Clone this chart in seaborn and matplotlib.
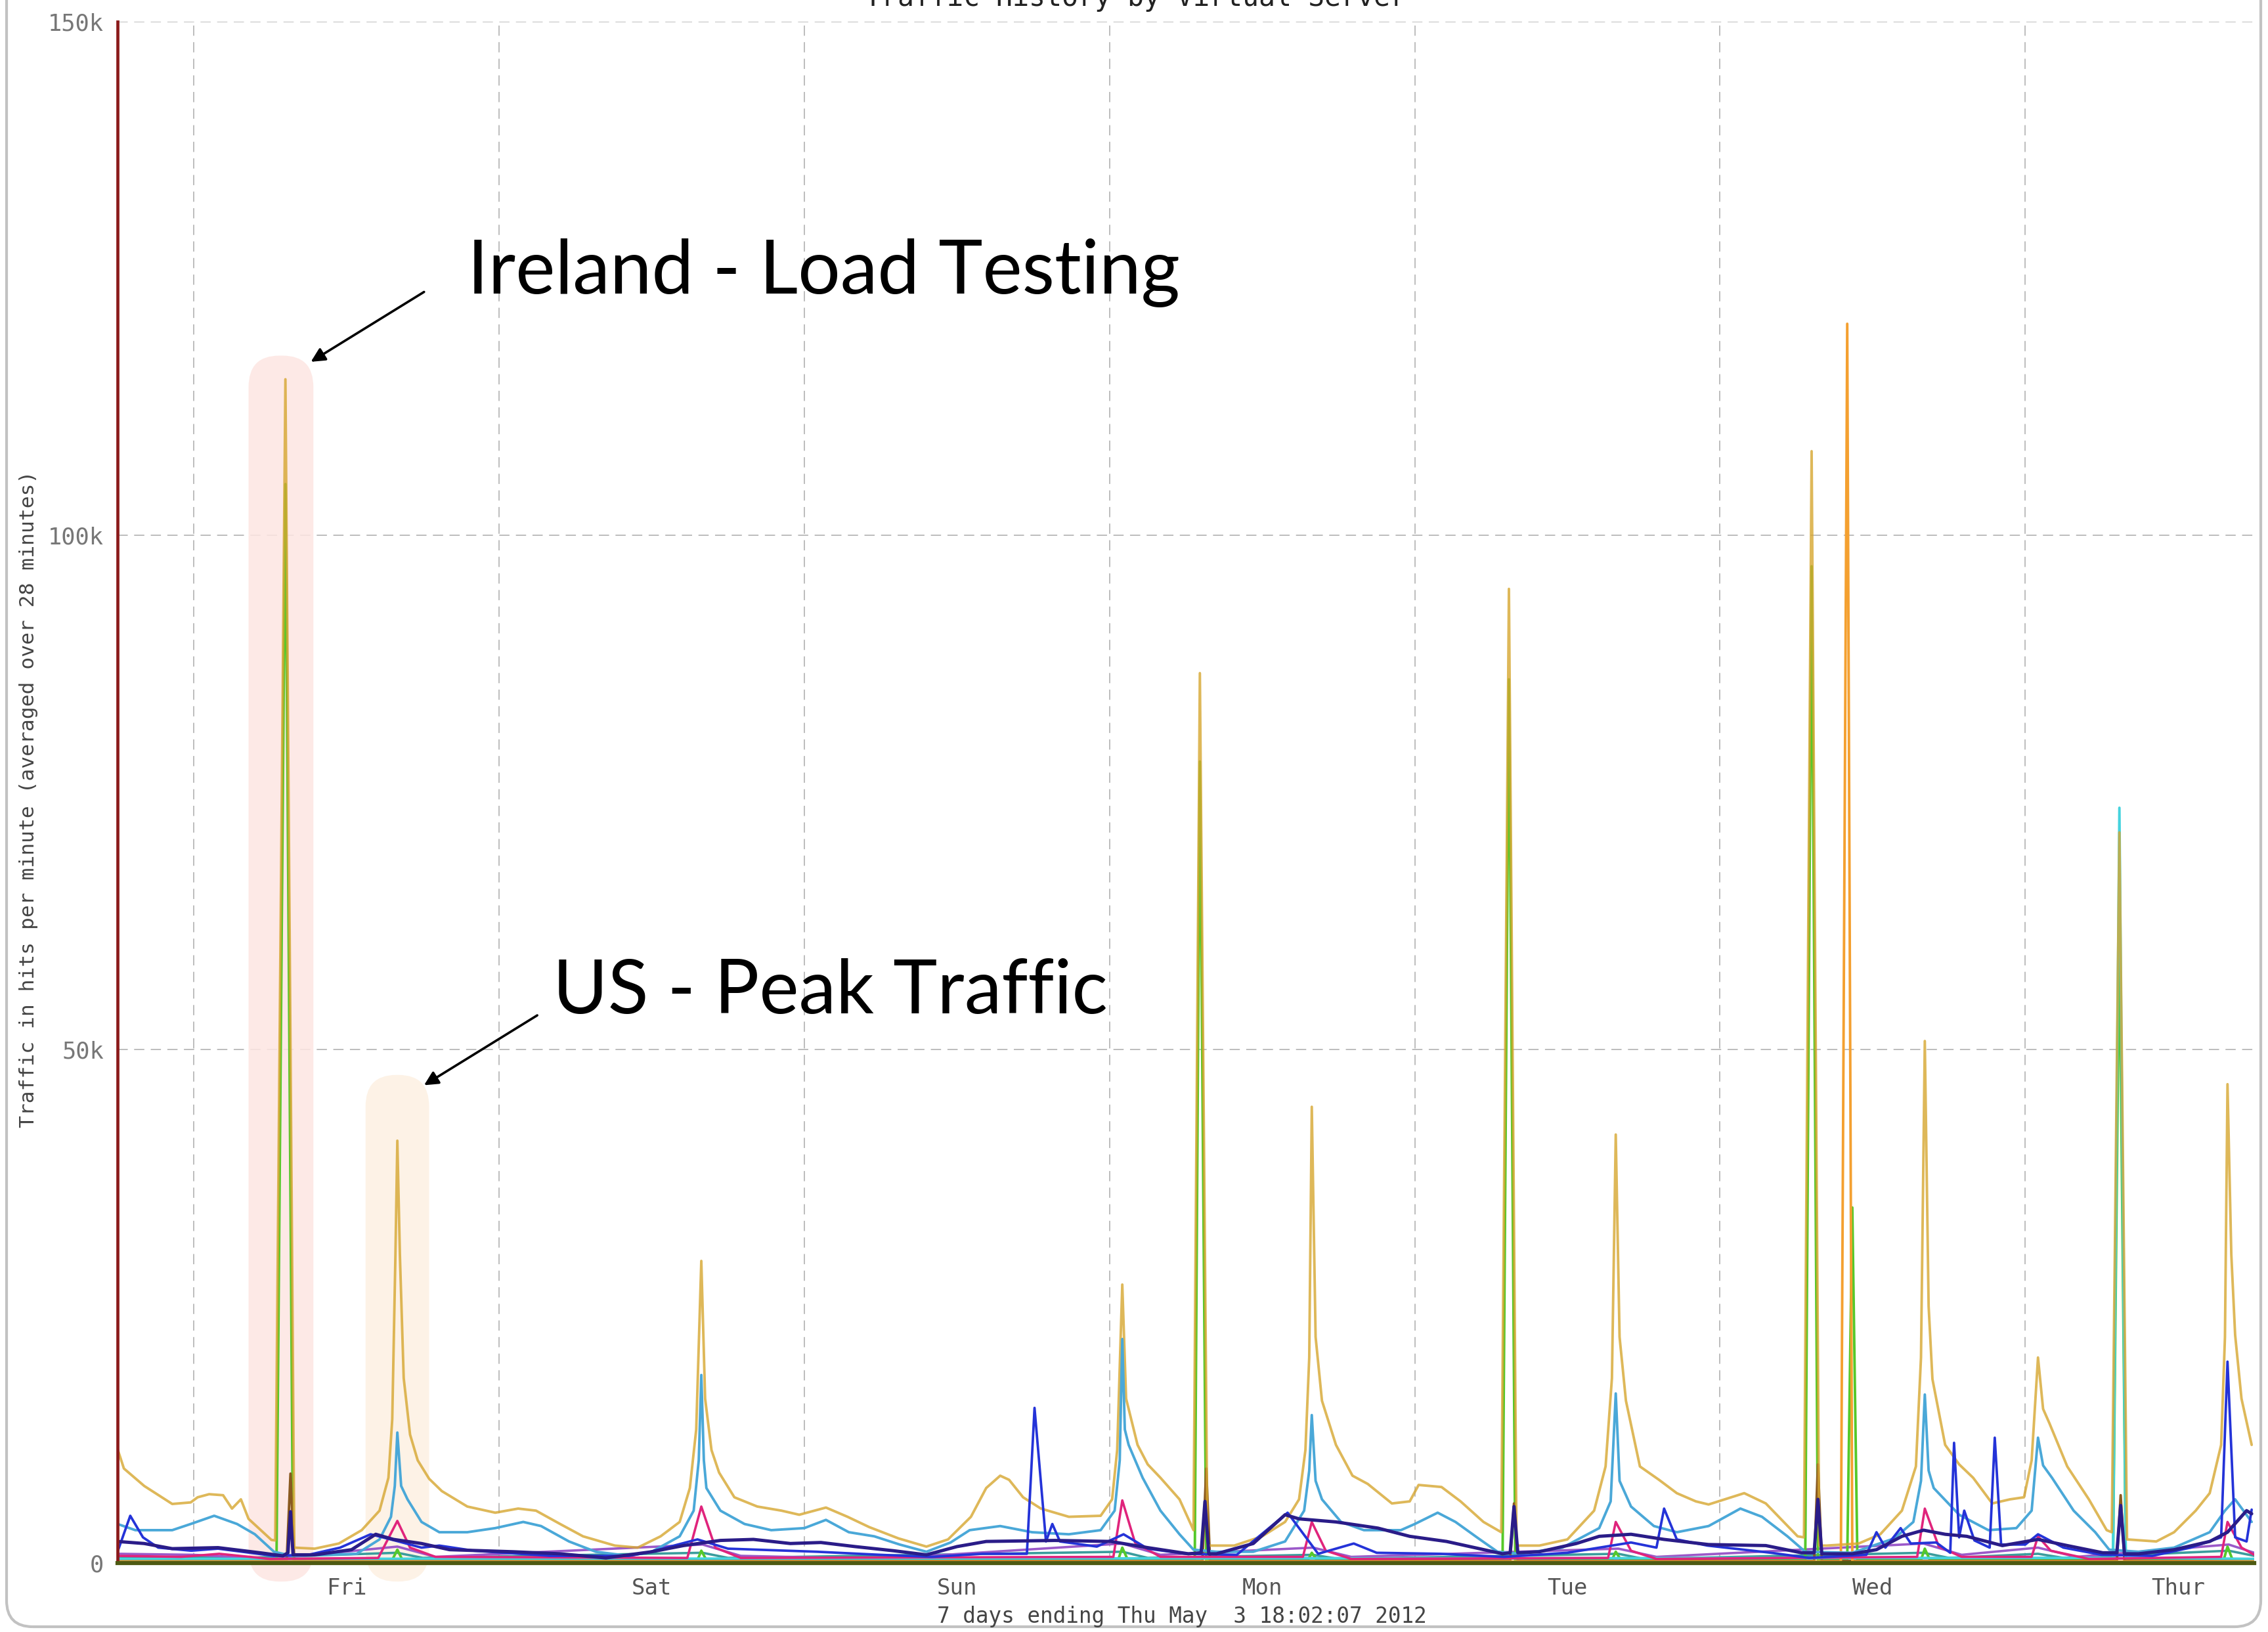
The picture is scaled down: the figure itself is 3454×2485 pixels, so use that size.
import numpy as np
import pandas as pd
import seaborn as sns
import matplotlib.pyplot as plt
from matplotlib import font_manager
from matplotlib.patches import FancyBboxPatch
from matplotlib.transforms import IdentityTransform

# hours since Thu Apr 26 18:02 -> value in thousands of hits/minute
gold = [(0.0, 11.1), (0.5, 9.2), (2.1, 7.5), (4.3, 5.75), (5.75, 5.9), (6.3, 6.4), (7.2, 6.7),
        (8.3, 6.6), (9.0, 5.3), (9.7, 6.2), (10.3, 4.3), (12.1, 2.25), (12.4, 2.2), (13.2, 115.2),
        (13.9, 1.5), (15.5, 1.4), (17.4, 1.9), (19.2, 3.2), (20.6, 5.1), (21.3, 8.3), (21.6, 14.0),
        (21.85, 30.0), (22.0, 41.1), (22.2, 30.0), (22.5, 18.0), (23.0, 12.5), (23.6, 10.0),
        (24.5, 8.2), (25.5, 7.0), (27.5, 5.5), (29.7, 4.9), (31.5, 5.3), (32.9, 5.1), (34.8, 3.8),
        (36.6, 2.6), (39.1, 1.7), (40.9, 1.5), (42.7, 2.6), (44.2, 4.0), (45.0, 7.3), (45.5, 13.0),
        (45.9, 29.4), (46.2, 16.0), (46.7, 11.0), (47.3, 8.8), (48.5, 6.4), (50.3, 5.5), (52.2, 5.1),
        (53.6, 4.7), (55.7, 5.4), (57.4, 4.5), (59.1, 3.5), (61.4, 2.4), (63.6, 1.6), (65.3, 2.3),
        (67.1, 4.5), (68.3, 7.3), (69.4, 8.5), (70.1, 8.1), (71.2, 6.4), (72.6, 5.3), (74.8, 4.5),
        (77.3, 4.6), (78.2, 6.2), (78.6, 11.0), (79.0, 27.1), (79.3, 16.0), (80.2, 11.5), (81.0, 9.6),
        (82.0, 8.3), (83.5, 6.2), (84.6, 3.2), (85.1, 86.6), (85.7, 1.7), (87.8, 1.7), (90.0, 2.6),
        (91.8, 4.0), (92.9, 6.2), (93.4, 11.0), (93.7, 20.0), (93.9, 44.4), (94.2, 22.0), (94.7, 15.8),
        (95.8, 11.5), (97.1, 8.5), (98.3, 7.7), (100.2, 5.8), (101.6, 6.0), (102.3, 7.6), (104.1, 7.4),
        (105.6, 6.0), (107.4, 4.0), (108.8, 3.0), (109.4, 94.8), (110.0, 1.7), (111.8, 1.7),
        (114.0, 2.3), (116.1, 5.1), (117.0, 9.4), (117.5, 18.0), (117.8, 41.7), (118.1, 22.0),
        (118.6, 15.8), (119.7, 9.4), (121.2, 8.1), (122.6, 6.8), (124.1, 6.0), (125.1, 5.7),
        (127.9, 6.8), (129.6, 5.8), (132.1, 2.6), (132.6, 2.5), (133.2, 108.2), (133.8, 1.7),
        (134.4, 1.7), (136.9, 1.9), (138.6, 2.8), (140.3, 5.1), (141.4, 9.4), (141.8, 20.0),
        (142.1, 50.8), (142.4, 25.0), (142.7, 17.9), (143.7, 11.5), (144.8, 9.6), (145.9, 8.3),
        (147.4, 5.8), (148.8, 6.2), (149.9, 6.4), (150.5, 10.0), (151.0, 20.0), (151.4, 15.0),
        (151.9, 13.6), (153.3, 9.4), (155.0, 6.2), (156.4, 3.2), (156.8, 3.0), (157.4, 71.1),
        (158.0, 2.3), (160.3, 2.1), (161.7, 3.0), (163.4, 5.1), (164.5, 6.8), (165.4, 11.5),
        (165.7, 22.0), (165.9, 46.6), (166.2, 30.0), (166.5, 22.2), (167.0, 16.0), (167.8, 11.5)]

light_blue = [(0.0, 3.8), (1.4, 3.2), (4.3, 3.2), (5.75, 3.8), (7.6, 4.6), (9.4, 3.8), (10.8, 2.8),
              (12.3, 1.1), (13.7, 0.7), (18.8, 0.9), (20.6, 2.3), (21.5, 4.5), (21.8, 7.5), (22.0, 12.7),
              (22.3, 7.5), (22.8, 6.2), (23.9, 4.0), (25.3, 3.0), (27.5, 3.0), (29.7, 3.4), (31.9, 4.0),
              (33.3, 3.6), (35.5, 2.1), (37.6, 1.1), (40.2, 0.7), (42.0, 1.1), (44.2, 2.6), (45.3, 5.1),
              (45.7, 10.0), (45.9, 18.3), (46.1, 10.0), (46.3, 7.3), (47.4, 5.1), (49.3, 3.8), (51.4, 3.2),
              (54.0, 3.4), (55.7, 4.2), (57.5, 3.0), (59.5, 2.6), (61.5, 1.8), (63.6, 1.1), (65.5, 2.0),
              (67.0, 3.2), (69.4, 3.6), (71.9, 3.0), (74.8, 2.8), (77.3, 3.2), (78.4, 5.1), (78.8, 10.0),
              (79.0, 21.8), (79.2, 13.0), (79.5, 11.5), (80.6, 8.3), (82.0, 5.1), (83.5, 2.8), (84.6, 1.3),
              (86.4, 1.1), (89.3, 1.1), (91.8, 2.1), (93.3, 5.1), (93.7, 9.0), (93.9, 14.4), (94.2, 8.0),
              (94.7, 6.2), (96.2, 4.0), (98.0, 3.2), (100.9, 3.2), (102.0, 3.8), (103.8, 4.9), (105.2, 4.0),
              (107.0, 2.4), (108.5, 1.1), (110.3, 0.9), (113.6, 1.5), (116.5, 3.4), (117.4, 6.0),
              (117.8, 16.5), (118.1, 8.0), (119.0, 5.5), (120.8, 3.6), (122.6, 3.0), (125.1, 3.6),
              (127.6, 5.3), (129.3, 4.5), (131.3, 2.6), (132.7, 1.1), (136.4, 1.0), (139.7, 2.4),
              (141.2, 4.0), (141.8, 8.0), (142.1, 16.4), (142.4, 9.0), (142.8, 7.3), (144.8, 4.7),
              (147.1, 3.2), (149.3, 3.4), (150.5, 5.1), (151.0, 12.2), (151.4, 9.5), (152.1, 8.3),
              (153.8, 5.1), (155.5, 3.0), (156.6, 1.3), (158.9, 1.1), (161.7, 1.5), (164.5, 3.0),
              (165.7, 5.1), (166.5, 6.2), (167.8, 4.0)]

navy = [(0.0, 2.1), (2.1, 1.9), (4.3, 1.4), (7.9, 1.5), (11.2, 1.0), (13.0, 0.7), (13.4, 1.0), (13.6, 5.0),
        (13.8, 0.8), (15.5, 0.8), (18.4, 1.3), (20.3, 2.8), (21.7, 2.3), (23.9, 1.9), (26.1, 1.3),
        (31.1, 1.1), (34.8, 0.9), (38.4, 0.5), (42.0, 1.1), (44.5, 1.7), (47.4, 2.2), (50.0, 2.3),
        (52.9, 1.9), (55.3, 2.0), (58.0, 1.6), (61.0, 1.2), (63.6, 0.8), (66.0, 1.6), (68.3, 2.1),
        (73.7, 2.2), (78.1, 2.1), (81.0, 1.5), (84.2, 0.9), (85.2, 1.0), (85.5, 6.0), (85.8, 0.9),
        (86.4, 0.9), (89.3, 1.9), (91.8, 4.7), (92.9, 4.3), (95.8, 4.0), (99.1, 3.4), (101.6, 2.6),
        (104.5, 2.1), (106.7, 1.5), (108.9, 0.9), (109.5, 1.0), (109.8, 5.5), (110.1, 1.0), (111.8, 1.1),
        (114.7, 1.9), (116.5, 2.6), (119.0, 2.8), (121.6, 2.3), (125.1, 1.8), (129.6, 1.7), (132.4, 1.0),
        (133.4, 1.0), (133.7, 6.2), (134.0, 0.9), (136.4, 0.9), (138.3, 1.3), (140.3, 2.6), (142.0, 3.2),
        (143.7, 2.8), (145.4, 2.6), (148.2, 1.7), (151.0, 2.3), (153.3, 1.7), (156.1, 1.0), (157.2, 1.0),
        (157.5, 5.6), (157.8, 0.9), (158.9, 0.9), (161.7, 1.3), (164.5, 2.1), (165.9, 3.0), (167.4, 5.1),
        (167.8, 4.8)]

blue = [(0.0, 1.1), (1.0, 4.6), (2.0, 2.5), (3.2, 1.5), (5.8, 1.2), (7.9, 1.4), (12.3, 0.7), (15.0, 0.8),
        (17.5, 1.5), (19.9, 2.8), (22.1, 2.1), (23.9, 1.5), (25.3, 1.7), (28.0, 1.2), (34.0, 0.7),
        (40.2, 0.7), (41.6, 1.0), (45.6, 2.3), (48.0, 1.4), (55.0, 1.1), (60.0, 0.8), (64.0, 0.6),
        (68.0, 0.9), (71.5, 0.9), (72.1, 15.1), (73.0, 2.1), (73.5, 3.8), (74.1, 2.1), (77.0, 1.6),
        (79.1, 2.8), (81.0, 1.4), (84.0, 0.9), (88.0, 0.8), (92.0, 4.9), (94.4, 0.9), (97.2, 1.9),
        (99.0, 1.0), (104.0, 0.9), (109.0, 0.6), (114.0, 1.0), (119.0, 2.0), (121.0, 1.5), (121.6, 5.3),
        (122.6, 2.3), (125.0, 1.7), (130.0, 1.0), (133.0, 0.5), (137.5, 0.8), (138.3, 3.0), (139.0, 1.5),
        (140.2, 3.4), (141.0, 1.9), (143.0, 2.0), (144.1, 1.0), (144.4, 11.7), (144.8, 2.5), (145.2, 5.1),
        (146.0, 2.2), (147.2, 1.5), (147.6, 12.2), (148.1, 1.8), (150.0, 1.8), (151.0, 2.8), (153.0, 1.5),
        (156.0, 0.8), (160.0, 0.7), (163.0, 1.5), (165.4, 2.5), (165.9, 19.6), (166.5, 2.5), (167.4, 2.1),
        (167.8, 5.2)]

magenta = [(0.0, 0.7), (5.0, 0.6), (8.0, 0.9), (12.0, 0.4), (20.5, 0.5), (22.0, 4.1), (23.0, 1.5),
           (25.0, 0.6), (44.8, 0.5), (45.9, 5.5), (47.0, 1.5), (49.0, 0.5), (78.3, 0.6), (79.0, 6.1),
           (80.0, 2.0), (82.0, 0.6), (93.2, 0.6), (93.9, 4.0), (95.0, 1.2), (97.0, 0.4), (117.2, 0.5),
           (117.8, 4.0), (119.0, 1.2), (121.0, 0.4), (141.5, 0.6), (142.1, 5.3), (143.2, 1.6), (145.0, 0.6),
           (150.5, 0.6), (151.0, 2.6), (152.0, 1.2), (155.0, 0.4), (165.4, 0.6), (165.9, 4.0), (167.0, 1.5),
           (168.0, 0.8)]

green = [(0.0, 0.3), (12.5, 0.3), (13.2, 105.0), (13.8, 0.3), (21.6, 0.3), (22.0, 1.3), (22.4, 0.3),
         (45.6, 0.3), (45.9, 1.2), (46.3, 0.3), (78.7, 0.4), (79.0, 1.5), (79.4, 0.4), (84.7, 0.3),
         (85.1, 78.0), (85.6, 0.3), (93.6, 0.3), (93.9, 1.0), (94.3, 0.3), (108.9, 0.3), (109.4, 86.0),
         (109.9, 0.3), (117.5, 0.3), (117.8, 1.1), (118.2, 0.3), (132.7, 0.3), (133.2, 97.0), (133.7, 0.3),
         (136.0, 0.3), (136.4, 34.6), (136.8, 0.3), (141.8, 0.3), (142.1, 1.4), (142.5, 0.3), (156.9, 0.3),
         (157.4, 62.0), (157.9, 0.3), (165.6, 0.3), (165.9, 1.6), (166.3, 0.3), (168.0, 0.3)]

orange = [(0.0, 0.15), (135.5, 0.15), (136.0, 120.6), (136.4, 0.15), (168.0, 0.15)]
cyan = [(0.0, 0.4), (156.9, 0.5), (157.4, 73.5), (157.9, 0.5), (168.0, 0.4)]
brown = [(0.0, 0.2), (13.3, 0.2), (13.6, 8.7), (13.9, 0.2), (85.3, 0.2), (85.6, 9.2), (85.9, 0.2),
         (109.5, 0.2), (109.8, 5.8), (110.1, 0.2), (133.4, 0.2), (133.7, 9.6), (134.0, 0.2),
         (157.2, 0.2), (157.5, 6.6), (157.8, 0.2), (168.0, 0.2)]

teal = [(0, 0.6), (10, 0.5), (22, 1.0), (24, 0.5), (46, 1.0), (48, 0.5), (79, 1.1), (81, 0.5), (94, 0.8),
        (96, 0.4), (118, 0.9), (120, 0.4), (142, 1.0), (144, 0.5), (151, 0.9), (153, 0.5), (166, 1.2),
        (168, 0.7)]
purple = [(0, 0.9), (6, 0.8), (12, 0.4), (22, 1.6), (25, 0.6), (46, 1.8), (49, 0.7), (60, 0.4), (79, 1.9),
          (82, 0.8), (94, 1.5), (97, 0.6), (118, 1.4), (121, 0.6), (142, 1.9), (145, 0.8), (151, 1.5),
          (154, 0.6), (166, 1.8), (168, 1.0)]
slate = [(0, 0.3), (30, 0.4), (60, 0.3), (90, 0.5), (120, 0.4), (150, 0.5), (168, 0.4)]

day_labels = ['Fri', 'Sat', 'Sun', 'Mon', 'Tue', 'Wed', 'Thur']
midnights = [6, 30, 54, 78, 102, 126, 150]
noons = [18, 42, 66, 90, 114, 138, 162]
y_ticks = [0, 50, 100, 150]
y_labels = ['0', '50k', '100k', '150k']

sns.set_style('white')
plt.rcParams['font.family'] = ['DejaVu Sans Mono', 'DejaVu Sans']

W, H = 3455, 2485
fig = plt.figure(figsize=(W / 100, H / 100), dpi=100)
fig.patch.set_facecolor('white')
ax = fig.add_axes([179 / W, 1 - 2380 / H, (3433 - 179) / W, (2380 - 33) / H])

# highlight boxes behind the lines
ax.add_patch(FancyBboxPatch((10.3, -1.8), 5.1, 119.3, boxstyle='round,pad=0,rounding_size=2.4',
                            mutation_aspect=1.28, fc='#fde6e2', ec='none', alpha=0.85,
                            clip_on=False, zorder=0.6))
ax.add_patch(FancyBboxPatch((19.5, -1.8), 5.0, 49.3, boxstyle='round,pad=0,rounding_size=2.4',
                            mutation_aspect=1.28, fc='#fdf0e2', ec='none', alpha=0.85,
                            clip_on=False, zorder=0.6))

# (points, colour, width, alpha) in drawing order
series = [
    (slate, '#7a95dd', 2.6, 1.0),
    (teal, '#3a9d9d', 2.6, 1.0),
    (purple, '#9b59c9', 2.6, 1.0),
    (green, '#55c82a', 2.8, 1.0),
    (brown, '#8a5a20', 2.8, 1.0),
    (cyan, '#45d3de', 2.8, 1.0),
    (gold, '#d6a630', 2.8, 0.8),
    (orange, '#f4a030', 2.8, 1.0),
    (light_blue, '#4aa8d8', 2.8, 1.0),
    (magenta, '#e0247c', 2.6, 1.0),
    (blue, '#2433d8', 2.7, 1.0),
    (navy, '#2a1c88', 3.6, 1.0),
]
for pts, color, lw, a in series:
    df = pd.DataFrame(pts, columns=['hour', 'value'])
    sns.lineplot(data=df, x='hour', y='value', ax=ax, color=color, linewidth=lw,
                 estimator=None, sort=False, alpha=a)

ax.set_xlim(0, 168)
ax.set_ylim(0, 150)
ax.set_xlabel('')
ax.set_ylabel('')

ax.set_yticks(y_ticks)
ax.set_yticklabels(y_labels)
ax.set_xticks(midnights)
ax.set_xticklabels([])
ax.set_xticks(noons, minor=True)
ax.set_xticklabels(day_labels, minor=True)

ax.set_axisbelow(True)
ax.grid(True, which='major', axis='both', color='#bdbdbd', linewidth=1.4, linestyle=(0, (8, 5)))
ax.tick_params(axis='x', which='major', length=6, width=2, color='#6b1a1a', direction='out')
ax.tick_params(axis='x', which='minor', length=0, pad=16, labelsize=24.5, labelcolor='#555555')
ax.tick_params(axis='y', which='major', length=6, width=2, color='#333333', pad=9,
               labelsize=25.5, labelcolor='#777777')

for s in ['top', 'right']:
    ax.spines[s].set_visible(False)
ax.spines['left'].set_color('#8b1a1a')
ax.spines['left'].set_linewidth(3.4)
ax.spines['bottom'].set_color('#4d5a12')
ax.spines['bottom'].set_linewidth(4.5)

# annotations
names = {f.name for f in font_manager.fontManager.ttflist}
anno_font = 'Liberation Sans Narrow' if 'Liberation Sans Narrow' in names else 'Lato'
anno_size = 95 if anno_font == 'Liberation Sans Narrow' else 82
fig.text(712 / W, 1 - 447 / H, 'Ireland - Load Testing', family=anno_font, fontsize=anno_size,
         ha='left', va='baseline', color='black')
fig.text(842 / W, 1 - 1543 / H, 'US - Peak Traffic', family=anno_font, fontsize=anno_size,
         ha='left', va='baseline', color='black')
arrow = dict(arrowstyle='-|>', color='black', lw=2.6, mutation_scale=32, shrinkA=0, shrinkB=0)
ax.annotate('', xy=(15.2, 116.9), xytext=(24.1, 123.7), arrowprops=arrow, annotation_clip=False)
ax.annotate('', xy=(24.1, 46.5), xytext=(33.0, 53.3), arrowprops=arrow, annotation_clip=False)

# titles and axis texts (title is cut by the top edge, as in the source screenshot)
fig.text(1730 / W, 1 - 9 / H, 'Traffic History by Virtual Server', fontsize=30,
         ha='center', va='baseline', color='#222222')
fig.text(1800 / W, 1 - 2461 / H, '7 days ending Thu May  3 18:02:07 2012', fontsize=23.5,
         ha='center', va='center', color='#444444')
fig.text(44 / W, 1 - 1217 / H, 'Traffic in hits per minute (averaged over 28 minutes)',
         fontsize=22.5, rotation=90, ha='center', va='center', color='#444444')

# window frame
frame = FancyBboxPatch((10, 8), W - 22, H + 200, boxstyle='round,pad=0,rounding_size=40',
                       transform=IdentityTransform(), fill=False, ec='#c2c2c2', lw=3)
fig.add_artist(frame)

fig.savefig('out.png', dpi=100)
